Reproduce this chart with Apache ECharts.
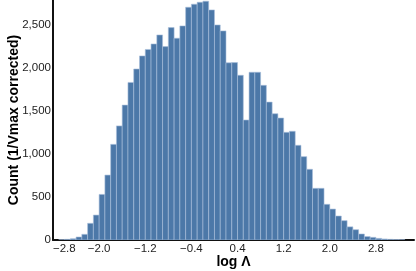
<!DOCTYPE html>
<html>
<head>
<meta charset="utf-8">
<script src="https://cdn.jsdelivr.net/npm/echarts@6/dist/echarts.min.js"></script>
<style>
  html, body { margin: 0; padding: 0; background: #fff; }
  #chart { width: 416px; height: 271px; }
</style>
</head>
<body>
<div id="chart"></div>
<script>
// histogram bins: lower edge of each bin (width 0.1)
const binStart = [
  -2.7, -2.6, -2.5, -2.4, -2.3, -2.2, -2.1, -2.0, -1.9, -1.8,
  -1.7, -1.6, -1.5, -1.4, -1.3, -1.2, -1.1, -1.0, -0.9, -0.8,
  -0.7, -0.6, -0.5, -0.4, -0.3, -0.2, -0.1, 0.0, 0.1, 0.2,
  0.3, 0.4, 0.5, 0.6, 0.7, 0.8, 0.9, 1.0, 1.1, 1.2,
  1.3, 1.4, 1.5, 1.6, 1.7, 1.8, 1.9, 2.0, 2.1, 2.2,
  2.3, 2.4, 2.5, 2.6, 2.7, 2.8, 2.9, 3.0, 3.1, 3.2
]
const binWidth = 0.1

// counts (1/Vmax corrected)
const counts = [
  3, 8, 15, 35, 66, 194, 290, 530, 755, 1112,
  1326, 1568, 1832, 1988, 2140, 2215, 2279, 2384, 2248, 2469,
  2346, 2489, 2706, 2741, 2764, 2776, 2675, 2500, 2431, 2060,
  2062, 1915, 1395, 1950, 1950, 1798, 1603, 1468, 1418, 1252,
  1264, 1101, 969, 822, 601, 601, 415, 360, 279, 225,
  153, 120, 70, 40, 31, 19, 12, 8, 5, 3
]

// axis ticks
const xTicks = [-2.8, -2.0, -1.2, -0.4, 0.4, 1.2, 2.0, 2.8]
const yTicks = [0, 500, 1000, 1500, 2000, 2500]

const chart = echarts.init(document.getElementById('chart'), null, { renderer: 'canvas' })

const data = binStart.map((b, i) => [b, +(b + binWidth).toFixed(2), counts[i]])

const fmtX = v => (v < 0 ? '\u2212' : '') + Math.abs(v).toFixed(1)
const fmtY = v => v.toLocaleString('en-US')

const option = {
  animation: false,
  grid: { left: 53, right: 2, top: 0, bottom: 31, outerBoundsMode: 'none', containLabel: false },
  xAxis: {
    type: 'value',
    min: -2.8,
    max: 3.46,
    name: 'log \u039B',
    nameLocation: 'middle',
    nameGap: 15,
    nameMoveOverlap: false,
    nameTextStyle: { fontFamily: 'Liberation Sans', fontWeight: 'bold', fontSize: 14, color: '#000' },
    axisLine: { show: true, onZero: false, lineStyle: { color: '#111', width: 2 } },
    axisTick: { show: false },
    splitLine: { show: false },
    axisLabel: {
      customValues: xTicks,
      formatter: fmtX,
      alignMinLabel: 'left',
      margin: 3,
      fontFamily: 'Liberation Sans',
      fontSize: 11.5,
      color: '#222'
    }
  },
  yAxis: {
    type: 'value',
    min: 0,
    max: 2790,
    name: 'Count (1/Vmax corrected)',
    nameLocation: 'middle',
    nameGap: 32,
    nameMoveOverlap: false,
    nameTextStyle: { fontFamily: 'Liberation Sans', fontWeight: 'bold', fontSize: 14, color: '#000' },
    axisLine: { show: true, onZero: false, lineStyle: { color: '#111', width: 2 } },
    axisTick: { show: false },
    splitLine: { show: false },
    axisLabel: {
      customValues: yTicks,
      formatter: fmtY,
      margin: 2,
      fontFamily: 'Liberation Sans',
      fontSize: 11.5,
      color: '#222'
    }
  },
  series: [
    {
      type: 'custom',
      clip: true,
      encode: { x: [0, 1], y: 2 },
      data: data,
      renderItem: (params, api) => {
        const p0 = api.coord([api.value(0), api.value(2)])
        const p1 = api.coord([api.value(1), 0])
        return {
          type: 'rect',
          shape: { x: p0[0], y: p0[1], width: p1[0] - p0[0], height: p1[1] - p0[1] },
          style: { fill: '#4c78a8', stroke: '#a9bfdb', lineWidth: 0.6 }
        }
      }
    }
  ]
}

chart.setOption(option)
</script>
</body>
</html>
